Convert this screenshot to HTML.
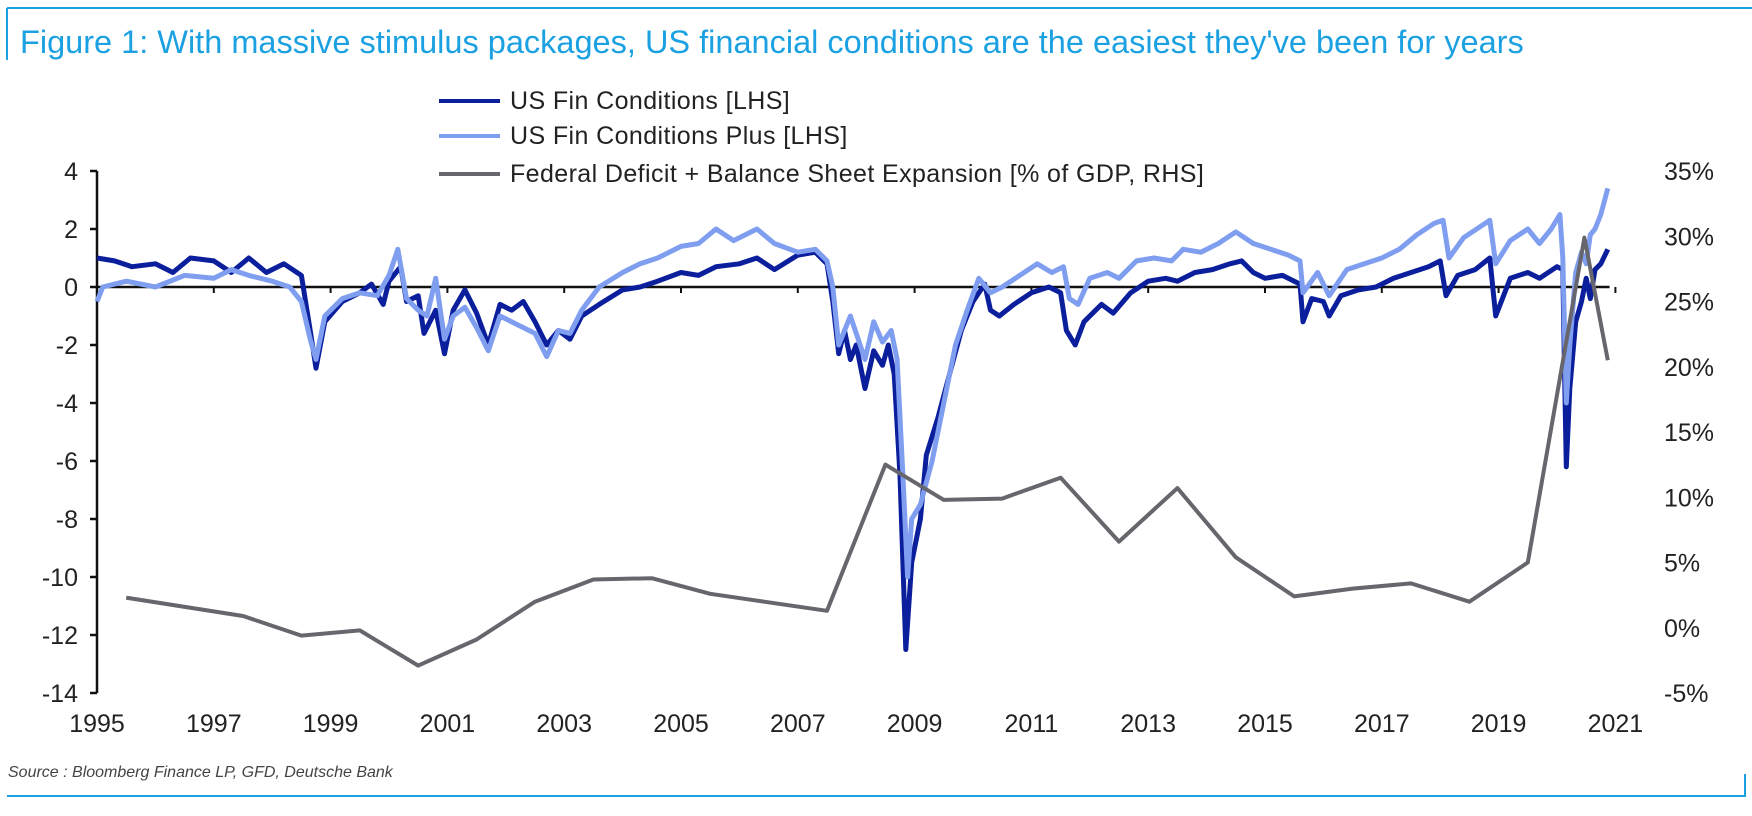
<!DOCTYPE html>
<html><head><meta charset="utf-8"><style>
body{margin:0;background:#fff;width:1752px;height:811px;overflow:hidden;font-family:"Liberation Sans",sans-serif}
</style></head><body>
<svg width="1752" height="811" viewBox="0 0 1752 811" font-family="Liberation Sans, sans-serif">
<line x1="7" y1="8" x2="1752" y2="8" stroke="#1ba1e2" stroke-width="2"/>
<line x1="7" y1="8" x2="7" y2="60" stroke="#1ba1e2" stroke-width="2"/>
<text x="20" y="53" font-size="32.5" fill="#1ba1e2">Figure 1: With massive stimulus packages, US financial conditions are the easiest they've been for years</text>
<g id="legend" letter-spacing="0.4">
<line x1="439" y1="101" x2="500" y2="101" stroke="#0b1e9c" stroke-width="4"/>
<text x="510" y="109" font-size="25" fill="#222">US Fin Conditions [LHS]</text>
<line x1="439" y1="136" x2="500" y2="136" stroke="#7f9ef0" stroke-width="4"/>
<text x="510" y="144" font-size="25" fill="#222">US Fin Conditions Plus [LHS]</text>
<line x1="439" y1="174" x2="500" y2="174" stroke="#66666c" stroke-width="4"/>
<text x="510" y="182" font-size="25" fill="#222">Federal Deficit + Balance Sheet Expansion [% of GDP, RHS]</text>
</g>
<g id="axes"></g>
<g id="series"></g>
<text x="8" y="777" font-size="16" font-style="italic" fill="#444">Source : Bloomberg Finance LP, GFD, Deutsche Bank</text>
<line x1="7" y1="796" x2="1745" y2="796" stroke="#1ba1e2" stroke-width="2"/>
<line x1="1745" y1="774" x2="1745" y2="797" stroke="#1ba1e2" stroke-width="2"/>
</svg>
<script>
const leftTicks=[4,2,0,-2,-4,-6,-8,-10,-12,-14];
const rightTicks=[35,30,25,20,15,10,5,0,-5];
const yearLabels=[1995,1997,1999,2001,2003,2005,2007,2009,2011,2013,2015,2017,2019,2021];
const fciDates=[1995.0,1995.3,1995.6,1996.0,1996.3,1996.6,1997.0,1997.3,1997.6,1997.9,1998.2,1998.5,1998.65,1998.75,1998.9,1999.2,1999.5,1999.7,1999.9,2000.0,2000.2,2000.3,2000.5,2000.6,2000.8,2000.95,2001.1,2001.3,2001.5,2001.7,2001.9,2002.1,2002.3,2002.5,2002.7,2002.9,2003.1,2003.3,2003.6,2004.0,2004.3,2004.6,2005.0,2005.3,2005.6,2006.0,2006.3,2006.6,2007.0,2007.3,2007.5,2007.6,2007.7,2007.8,2007.9,2008.0,2008.15,2008.3,2008.45,2008.55,2008.65,2008.75,2008.85,2008.95,2009.1,2009.2,2009.4,2009.6,2009.8,2010.0,2010.2,2010.3,2010.45,2010.7,2011.0,2011.3,2011.5,2011.6,2011.75,2011.9,2012.2,2012.4,2012.7,2013.0,2013.3,2013.5,2013.8,2014.1,2014.4,2014.6,2014.8,2015.0,2015.3,2015.6,2015.65,2015.8,2016.0,2016.1,2016.3,2016.6,2016.9,2017.2,2017.5,2017.8,2018.0,2018.1,2018.3,2018.6,2018.85,2018.95,2019.2,2019.5,2019.7,2020.0,2020.1,2020.13,2020.16,2020.22,2020.32,2020.42,2020.5,2020.57,2020.65,2020.75,2020.87];
const fciValues=[1.0,0.9,0.7,0.8,0.5,1.0,0.9,0.5,1.0,0.5,0.8,0.4,-1.5,-2.8,-1.2,-0.5,-0.2,0.1,-0.6,0.2,0.7,-0.5,-0.3,-1.6,-0.8,-2.3,-0.8,-0.1,-0.9,-2.0,-0.6,-0.8,-0.5,-1.2,-2.0,-1.5,-1.8,-1.0,-0.6,-0.1,0.0,0.2,0.5,0.4,0.7,0.8,1.0,0.6,1.1,1.2,0.8,-0.5,-2.3,-1.5,-2.5,-2.0,-3.5,-2.2,-2.7,-2.0,-3.0,-6.5,-12.5,-9.5,-8.0,-5.8,-4.5,-3.0,-1.5,-0.5,0.1,-0.8,-1.0,-0.6,-0.2,0.0,-0.2,-1.5,-2.0,-1.2,-0.6,-0.9,-0.2,0.2,0.3,0.2,0.5,0.6,0.8,0.9,0.5,0.3,0.4,0.1,-1.2,-0.4,-0.5,-1.0,-0.3,-0.1,0.0,0.3,0.5,0.7,0.9,-0.3,0.4,0.6,1.0,-1.0,0.3,0.5,0.3,0.7,0.6,-3.0,-6.2,-3.5,-1.2,-0.5,0.3,-0.4,0.6,0.8,1.3];
const plusDates=[1995.0,1995.1,1995.5,1996.0,1996.5,1997.0,1997.3,1997.6,1998.0,1998.3,1998.5,1998.65,1998.75,1998.9,1999.2,1999.5,1999.8,2000.0,2000.15,2000.3,2000.5,2000.65,2000.8,2000.95,2001.1,2001.3,2001.5,2001.7,2001.9,2002.2,2002.5,2002.7,2002.9,2003.1,2003.3,2003.6,2004.0,2004.3,2004.6,2005.0,2005.3,2005.6,2005.9,2006.3,2006.6,2007.0,2007.3,2007.5,2007.6,2007.7,2007.9,2008.15,2008.3,2008.45,2008.6,2008.7,2008.8,2008.88,2008.95,2009.1,2009.3,2009.5,2009.7,2009.9,2010.1,2010.3,2010.5,2010.8,2011.1,2011.35,2011.55,2011.65,2011.8,2012.0,2012.3,2012.5,2012.8,2013.1,2013.4,2013.6,2013.9,2014.2,2014.5,2014.8,2015.1,2015.4,2015.6,2015.65,2015.9,2016.1,2016.4,2016.7,2017.0,2017.3,2017.6,2017.9,2018.05,2018.15,2018.4,2018.7,2018.85,2018.95,2019.2,2019.5,2019.7,2019.9,2020.05,2020.1,2020.16,2020.22,2020.32,2020.42,2020.5,2020.57,2020.65,2020.75,2020.87];
const plusValues=[-0.5,0.0,0.2,0.0,0.4,0.3,0.6,0.4,0.2,0.0,-0.5,-1.8,-2.5,-1.0,-0.4,-0.2,-0.3,0.4,1.3,-0.4,-0.8,-1.0,0.3,-1.8,-1.0,-0.7,-1.4,-2.2,-1.0,-1.3,-1.6,-2.4,-1.5,-1.6,-0.8,0.0,0.5,0.8,1.0,1.4,1.5,2.0,1.6,2.0,1.5,1.2,1.3,0.9,0.0,-2.0,-1.0,-2.5,-1.2,-1.9,-1.5,-2.5,-6.5,-10.0,-8.0,-7.5,-6.0,-4.0,-2.0,-0.8,0.3,-0.2,0.0,0.4,0.8,0.5,0.7,-0.4,-0.6,0.3,0.5,0.3,0.9,1.0,0.9,1.3,1.2,1.5,1.9,1.5,1.3,1.1,0.9,-0.2,0.5,-0.3,0.6,0.8,1.0,1.3,1.8,2.2,2.3,1.0,1.7,2.1,2.3,0.8,1.6,2.0,1.5,2.0,2.5,1.0,-4.0,-2.0,0.5,1.2,0.8,1.8,2.0,2.5,3.4];
const deficitDates=[1995.5,1997.5,1998.5,1999.5,2000.5,2001.5,2002.5,2003.5,2004.5,2005.5,2007.5,2008.5,2009.5,2010.5,2011.5,2012.5,2013.5,2014.5,2015.5,2016.5,2017.5,2018.5,2019.5,2020.47,2020.87];
const deficitValues=[2.3,0.9,-0.6,-0.2,-2.9,-0.9,2.0,3.7,3.8,2.6,1.3,12.5,9.8,9.9,11.5,6.6,10.7,5.4,2.4,3.0,3.4,2.0,5.0,29.9,20.5];

const NS='http://www.w3.org/2000/svg';
const x=t=>97+(t-1995)*58.4;
const yL=v=>171+(4-v)*29.0;
const yR=p=>171+(35-p)*13.05;
function mk(tag,attrs,parent){const e=document.createElementNS(NS,tag);for(const k in attrs)e.setAttribute(k,attrs[k]);parent.appendChild(e);return e;}
const axes=document.getElementById('axes');
const series=document.getElementById('series');
let a=mk('line',{x1:97,y1:yL(4),x2:97,y2:yL(-14),stroke:'#111','stroke-width':2.5},axes);


leftTicks.forEach(v=>{
 let t=mk('line',{x1:90,y1:yL(v),x2:97,y2:yL(v),stroke:'#111','stroke-width':2.5},axes);
 
 
 let l=mk('text',{x:78,y:yL(v)+9,'text-anchor':'end','font-size':25,fill:'#222'},axes);
 l.textContent=v;
 
 
});
rightTicks.forEach(p=>{
 let l=mk('text',{x:1664,y:yR(p)+9,'font-size':25,fill:'#222'},axes);
 l.textContent=p+'%';
 
 
});
let z=mk('line',{x1:97,y1:yL(0),x2:x(2020.9),y2:yL(0),stroke:'#111','stroke-width':2.5},axes);


yearLabels.forEach(yr=>{
 let t=mk('line',{x1:x(yr),y1:yL(0),x2:x(yr),y2:yL(0)+6,stroke:'#111','stroke-width':2},axes);
 
 
 let l=mk('text',{x:x(yr),y:732,'text-anchor':'middle','font-size':25,fill:'#222'},axes);
 l.textContent=yr;
 
 
});
function path(ds,vs,yf){return ds.map((d,i)=>(i?'L':'M')+x(d).toFixed(1)+' '+yf(vs[i]).toFixed(1)).join(' ');}
let p1=mk('path',{d:path(fciDates,fciValues,yL),fill:'none',stroke:'#0b1e9c','stroke-width':5,'stroke-linejoin':'round'},series);


let p2=mk('path',{d:path(plusDates,plusValues,yL),fill:'none',stroke:'#7f9ef0','stroke-width':5,'stroke-linejoin':'round'},series);


let p3=mk('path',{d:path(deficitDates,deficitValues,yR),fill:'none',stroke:'#66666c','stroke-width':4,'stroke-linejoin':'round'},series);


</script>
</body></html>
